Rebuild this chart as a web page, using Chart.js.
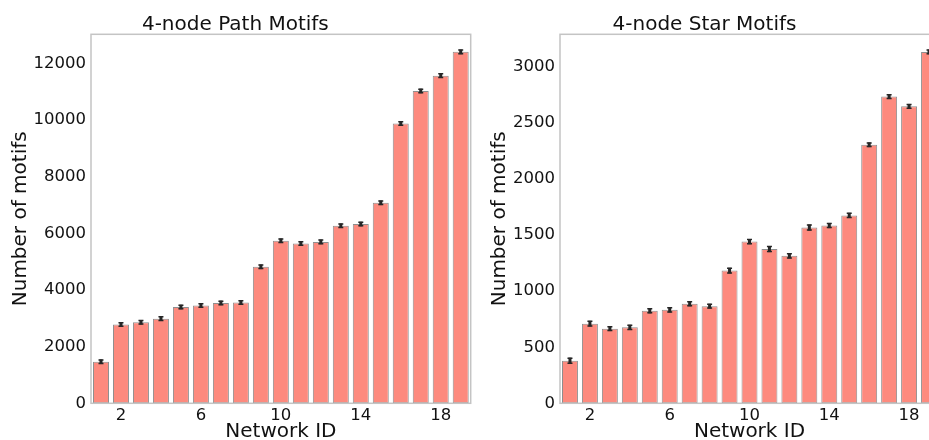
<!DOCTYPE html>
<html>
<head>
<meta charset="utf-8">
<script src="https://cdn.jsdelivr.net/npm/chart.js@4/dist/chart.umd.min.js"></script>
<style>
  html, body { margin: 0; padding: 0; background: #fff; overflow: hidden; width: 929px; height: 440px; }
  canvas { position: absolute; top: 0; }
  #pathChart { left: 0; }
  #starChart { left: 470px; }
</style>
</head>
<body>
<canvas id="pathChart" width="475" height="440"></canvas>
<canvas id="starChart" width="480" height="440"></canvas>
<script>
// Network IDs along the x axis
const networkIds = [1, 2, 3, 4, 5, 6, 7, 8, 9, 10, 11, 12, 13, 14, 15, 16, 17, 18, 19];
const xTickLabels = [2, 6, 10, 14, 18];

// 4-node path motif counts and their error
const pathCounts = [1470, 2780, 2860, 2990, 3400, 3450, 3545, 3560, 4820, 5740, 5640, 5700, 6270, 6330, 7080, 9880, 11030, 11570, 12410];
const pathErrors = [45, 45, 45, 45, 45, 45, 45, 45, 45, 45, 45, 45, 45, 45, 45, 45, 45, 45, 45];
const pathTicks = [0, 2000, 4000, 6000, 8000, 10000, 12000];

// 4-node star motif counts and their error
const starCounts = [380, 710, 665, 677, 825, 833, 888, 866, 1183, 1442, 1375, 1315, 1567, 1585, 1675, 2305, 2735, 2648, 3133];
const starErrors = [18, 16, 12, 14, 14, 14, 14, 12, 16, 14, 18, 14, 18, 14, 14, 12, 12, 12, 12];
const starTicks = [0, 500, 1000, 1500, 2000, 2500, 3000];

const FONT = "'DejaVu Sans', sans-serif";
const BAR_FILL = '#fd8a7e';
const BAR_EDGE = '#8f8f8f';
const FRAME = '#c4c4c4';
const TEXT = '#111111';

// Draws a frame round the plotting area
const framePlugin = {
  id: 'frame',
  afterDatasetsDraw(chart) {
    const a = chart.chartArea;
    const ctx = chart.ctx;
    ctx.save();
    ctx.strokeStyle = FRAME;
    ctx.lineWidth = 1.5;
    ctx.strokeRect(a.left, a.top, a.right - a.left, a.bottom - a.top);
    ctx.restore();
  }
};

// Draws error bars on top of each bar, using the dataset's errors array
const errorBarPlugin = {
  id: 'errorBars',
  afterDatasetsDraw(chart) {
    const ctx = chart.ctx;
    const yScale = chart.scales.y;
    chart.data.datasets.forEach((ds, di) => {
      const meta = chart.getDatasetMeta(di);
      const errs = ds.errors || [];
      meta.data.forEach((bar, i) => {
        const v = ds.data[i];
        const e = errs[i] || 0;
        const yTop = yScale.getPixelForValue(v + e);
        const yBot = yScale.getPixelForValue(v - e);
        const x = bar.x;
        ctx.save();
        ctx.strokeStyle = '#262626';
        ctx.lineWidth = 3;
        ctx.beginPath();
        ctx.moveTo(x, yTop - 1);
        ctx.lineTo(x, yBot + 1);
        ctx.stroke();
        ctx.lineWidth = 1.5;
        ctx.beginPath();
        ctx.moveTo(x - 2.5, yTop - 0.5);
        ctx.lineTo(x + 2.5, yTop - 0.5);
        ctx.moveTo(x - 2.5, yBot + 0.5);
        ctx.lineTo(x + 2.5, yBot + 0.5);
        ctx.stroke();
        ctx.restore();
      });
    });
  }
};

function makeChart(canvasId, opts) {
  return new Chart(document.getElementById(canvasId), {
    type: 'bar',
    data: {
      labels: networkIds,
      datasets: [{
        data: opts.values,
        errors: opts.errors,
        backgroundColor: BAR_FILL,
        borderColor: BAR_EDGE,
        borderWidth: 1,
        borderSkipped: false,
        barPercentage: 0.8,
        categoryPercentage: 1.0
      }]
    },
    options: {
      responsive: false,
      animation: false,
      devicePixelRatio: 1,
      layout: { padding: { top: 0, left: 0, bottom: 0, right: opts.padRight } },
      plugins: {
        legend: { display: false },
        tooltip: { enabled: false },
        title: {
          display: true,
          text: opts.title,
          color: TEXT,
          font: { family: FONT, size: 20, weight: 'normal', lineHeight: 1 },
          padding: { top: 14.5, bottom: -0.2 }
        }
      },
      scales: {
        x: {
          type: 'category',
          offset: true,
          grid: { display: false, drawTicks: false },
          border: { display: false },
          ticks: {
            autoSkip: false,
            maxRotation: 0,
            minRotation: 0,
            padding: 3,
            color: TEXT,
            font: { family: FONT, size: 16.5 },
            callback(value, index) {
              const id = networkIds[index];
              return xTickLabels.includes(id) ? String(id) : '';
            }
          },
          title: {
            display: true,
            text: 'Network ID',
            color: TEXT,
            font: { family: FONT, size: 20, lineHeight: 1 },
            padding: { top: 0, bottom: -1.5 }
          },
          afterFit(scale) { scale.height = 36.7; }
        },
        y: {
          min: 0,
          max: opts.yMax,
          grid: { display: false, drawTicks: false },
          border: { display: false },
          afterBuildTicks(scale) {
            scale.ticks = opts.ticks.map(v => ({ value: v }));
          },
          ticks: {
            padding: 5,
            color: TEXT,
            font: { family: FONT, size: 16.5 },
            callback: (v) => String(v)
          },
          title: {
            display: true,
            text: 'Number of motifs',
            color: TEXT,
            font: { family: FONT, size: 20, lineHeight: 1 },
            padding: { top: opts.yTitlePad, bottom: 0 }
          },
          afterFit(scale) { scale.width = opts.yAxisWidth; }
        }
      }
    },
    plugins: [framePlugin, errorBarPlugin]
  });
}

makeChart('pathChart', {
  title: '4-node Path Motifs',
  values: pathCounts,
  errors: pathErrors,
  ticks: pathTicks,
  yMax: 13030,
  yAxisWidth: 91,
  yTitlePad: 10.5,
  padRight: 4.3
});

makeChart('starChart', {
  title: '4-node Star Motifs',
  values: starCounts,
  errors: starErrors,
  ticks: starTicks,
  yMax: 3290,
  yAxisWidth: 90,
  yTitlePad: 20,
  padRight: 11
});
</script>
</body>
</html>
